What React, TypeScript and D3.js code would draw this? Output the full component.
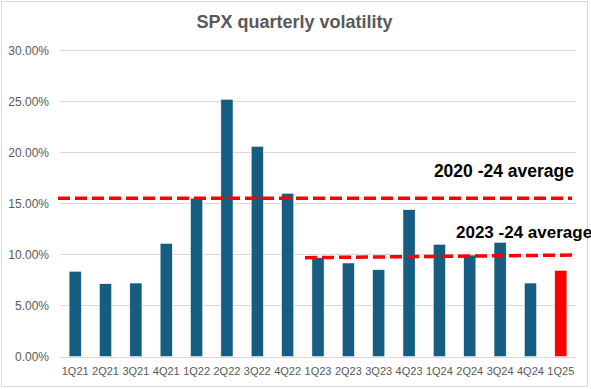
import React, { useEffect, useRef } from 'react';
import * as d3 from 'd3';

const quarters = ['1Q21', '2Q21', '3Q21', '4Q21', '1Q22', '2Q22', '3Q22', '4Q22', '1Q23', '2Q23', '3Q23', '4Q23', '1Q24', '2Q24', '3Q24', '4Q24', '1Q25'];
const volatility = [8.34, 7.12, 7.19, 11.07, 15.5, 25.17, 20.57, 15.97, 9.67, 9.15, 8.5, 14.37, 10.98, 9.93, 11.17, 7.19, 8.43];
const yTicks = [0, 5, 10, 15, 20, 25, 30];
// averages: [start value, end value] as drawn in the picture
const avg2020 = [15.48, 15.48];
const avg2023 = [9.67, 9.93];

const App = () => {
	const chartRef = useRef<HTMLDivElement>(null);

	useEffect(() => {
		if (!chartRef.current) return;
		const W = 591, H = 389;
		const margin = { top: 50, right: 15, bottom: 32.5, left: 60 };

		d3.select(chartRef.current).selectAll('*').remove();

		const svg = d3.select(chartRef.current)
			.append('svg')
			.attr('width', W)
			.attr('height', H)
			.style('position', 'absolute')
			.style('left', 0)
			.style('top', 0)
			.style('font-family', 'Liberation Sans, Arial, sans-serif');

		svg.append('rect')
			.attr('x', 1.5).attr('y', 1.5)
			.attr('width', 586).attr('height', 385)
			.attr('fill', '#fff')
			.attr('stroke', '#d9d9d9');

		const x = d3.scaleBand().domain(quarters).range([margin.left, W - margin.right]).paddingInner(0.6).paddingOuter(0.3);
		const y = d3.scaleLinear().domain([0, 30]).range([H - margin.bottom, margin.top]);

		svg.append('g')
			.selectAll('line')
			.data(yTicks)
			.join('line')
			.attr('x1', margin.left)
			.attr('x2', W - margin.right)
			.attr('y1', d => Math.round(y(d)) + 0.5)
			.attr('y2', d => Math.round(y(d)) + 0.5)
			.attr('stroke', '#d9d9d9')
			.attr('stroke-width', 1);

		svg.append('g')
			.selectAll('text')
			.data(yTicks)
			.join('text')
			.attr('x', 49)
			.attr('y', d => y(d) + 4.5)
			.attr('text-anchor', 'end')
			.attr('font-size', 12)
			.attr('fill', '#595959')
			.text(d => d.toFixed(2) + '%');

		svg.append('g')
			.selectAll('rect')
			.data(volatility)
			.join('rect')
			.attr('x', (d, i) => x(quarters[i]))
			.attr('y', d => y(d))
			.attr('width', x.bandwidth())
			.attr('height', d => y(0) - y(d))
			.attr('fill', (d, i) => i === quarters.length - 1 ? '#ff0000' : '#155e82')
			.attr('stroke', '#ffffff')
			.attr('stroke-width', 0.5);

		svg.append('g')
			.selectAll('text')
			.data(quarters)
			.join('text')
			.attr('x', d => x(d) + x.bandwidth() / 2)
			.attr('y', 375)
			.attr('text-anchor', 'middle')
			.attr('font-size', 11)
			.attr('fill', '#595959')
			.text(d => d);

		svg.append('text')
			.attr('x', 294.5)
			.attr('y', 28)
			.attr('text-anchor', 'middle')
			.attr('font-size', 18)
			.attr('font-weight', 'bold')
			.attr('fill', '#595959')
			.text('SPX quarterly volatility');

		// dashed average lines
		const dash = (x1, x2, vals) => svg.append('line')
			.attr('x1', x1).attr('x2', x2)
			.attr('y1', y(vals[0])).attr('y2', y(vals[1]))
			.attr('stroke', '#ff0000')
			.attr('stroke-width', 3.5)
			.attr('stroke-dasharray', '12,5');

		dash(58, 572, avg2020);
		dash(305, 573, avg2023);

		svg.append('text')
			.attr('x', 574)
			.attr('y', 177)
			.attr('text-anchor', 'end')
			.attr('font-size', 17.5)
			.attr('font-weight', 'bold')
			.attr('fill', '#000')
			.text('2020 -24 average');

		svg.append('text')
			.attr('x', 456)
			.attr('y', 238)
			.attr('font-size', 17)
			.attr('font-weight', 'bold')
			.attr('fill', '#000')
			.text('2023 -24 average');
	}, []);

	return <div ref={chartRef}></div>;
};

export default App;
